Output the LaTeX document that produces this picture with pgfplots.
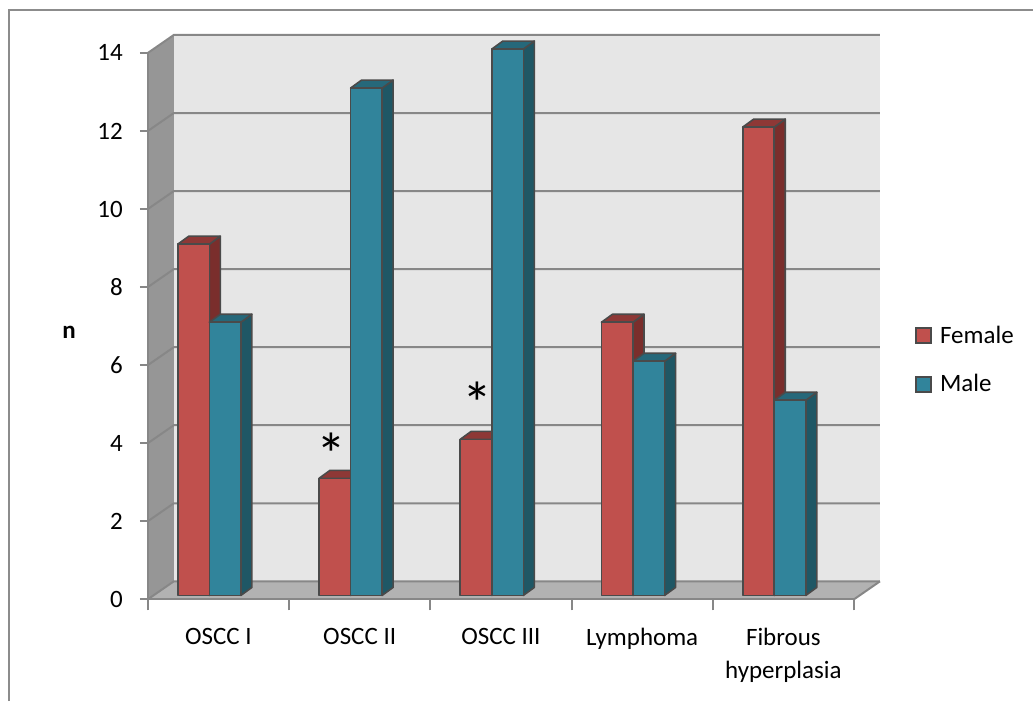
\documentclass[border=0pt]{standalone}
\usepackage{fontspec}
\setmainfont{Carlito}
\usepackage{pgfplots}
\pgfplotsset{compat=1.18}
\usepackage{pgfplotstable}

\definecolor{redF}{HTML}{C0504D}
\definecolor{redS}{HTML}{7A2E2C}
\definecolor{redT}{HTML}{8E3836}
\definecolor{tealF}{HTML}{31849B}
\definecolor{tealS}{HTML}{1F5765}
\definecolor{tealT}{HTML}{26687A}
\definecolor{barline}{HTML}{4A4A4A}
\definecolor{wallc}{HTML}{E6E6E6}
\definecolor{sidewall}{HTML}{969696}
\definecolor{floorc}{HTML}{B2B2B2}
\definecolor{gridc}{HTML}{878787}
\definecolor{framec}{HTML}{8C8C8C}

\pgfplotstableread{
cat female male
0 9 7
1 3 13
2 4 14
3 7 6
4 12 5
}\datatable

% #1 x offset, #2 front, #3 side, #4 top
\newcommand\drawbar[4]{%
  \begin{pgfscope}%
  \pgfmathsetlengthmacro\bh{\val*19.535pt}%
  \pgfsetlinewidth{0.8pt}%
  \pgfsetstrokecolor{barline}%
  \pgfsetroundjoin
  \pgftransformxshift{#1}%
  % side
  \pgfpathmoveto{\pgfpoint{15.8pt}{1.95pt-\bh}}%
  \pgfpathlineto{\pgfpoint{21.3pt}{5.95pt-\bh}}%
  \pgfpathlineto{\pgfpoint{21.3pt}{5.95pt}}%
  \pgfpathlineto{\pgfpoint{15.8pt}{1.95pt}}%
  \pgfpathclose
  \pgfsetfillcolor{#3}\pgfusepath{fill,stroke}%
  % top
  \pgfpathmoveto{\pgfpoint{0pt}{1.95pt}}%
  \pgfpathlineto{\pgfpoint{5.5pt}{5.95pt}}%
  \pgfpathlineto{\pgfpoint{21.3pt}{5.95pt}}%
  \pgfpathlineto{\pgfpoint{15.8pt}{1.95pt}}%
  \pgfpathclose
  \pgfsetfillcolor{#4}\pgfusepath{fill,stroke}%
  % front
  \pgfpathrectanglecorners{\pgfpoint{0pt}{1.95pt}}{\pgfpoint{15.8pt}{1.95pt-\bh}}%
  \pgfsetfillcolor{#2}\pgfusepath{fill,stroke}%
  \end{pgfscope}%
}
\pgfdeclareplotmark{barF}{\drawbar{-20.36pt}{redF}{redS}{redT}}
\pgfdeclareplotmark{barM}{\drawbar{-4.56pt}{tealF}{tealS}{tealT}}

\begin{document}
\begin{tikzpicture}[font=\fontsize{12.5}{15.5}\selectfont]
\begin{axis}[
  x=70.7pt, y=19.535pt,
  xmin=-0.5, xmax=4.5, ymin=0, ymax=14,
  clip=false,
  axis on top,
  axis x line*=bottom, axis y line*=left,
  axis line style={gridc, line width=1pt},
  tick style={gridc, line width=1pt},
  tick align=outside,
  major tick length=4pt,
  xtick style={/pgfplots/major tick length=5.5pt},
  ytick={0,2,...,14},
  xtick={-0.5,0.5,...,4.5},
  xticklabels={,,,,,},
  extra x ticks={0,1,2,3,4},
  extra x tick labels={OSCC I, OSCC II, OSCC III, Lymphoma, {Fibrous\\hyperplasia}},
  extra x tick style={/pgfplots/major tick length=0pt, tick style={draw=none},
     xticklabel style={align=center, yshift=-11pt, font=\fontsize{12.5}{16.5}\selectfont}},
  /pgf/number format/assume math mode=true,
  yticklabel style={font=\fontsize{12.5}{15.5}\selectfont, xshift=-5pt},
  ylabel={\textbf{n}},
  every axis y label/.style={at={(axis description cs:-0.1117,0.488)}, anchor=center},
  legend style={draw=none, fill=none, at={(axis description cs:1.086,0.438)}, anchor=west,
     inner sep=0pt, row sep=12pt, font=\fontsize{12.5}{15.5}\selectfont,
     nodes={inner sep=1pt}},
  legend cell align=left,
]
\coordinate (ref) at (axis cs:-0.5,0);
% side wall
\fill[sidewall] (axis cs:-0.5,0) -- ([shift={(13pt,9pt)}]axis cs:-0.5,0)
   -- ([shift={(13pt,9pt)}]axis cs:-0.5,14) -- (axis cs:-0.5,14) -- cycle;
% back wall
\fill[wallc] ([shift={(13pt,9pt)}]axis cs:-0.5,0) rectangle ([shift={(13pt,9pt)}]axis cs:4.5,14);
% floor
\fill[floorc] (axis cs:-0.5,0) -- (axis cs:4.5,0) -- ([shift={(13pt,9pt)}]axis cs:4.5,0)
   -- ([shift={(13pt,9pt)}]axis cs:-0.5,0) -- cycle;
\draw[gridc, line width=1pt] (axis cs:4.5,0) -- ([shift={(13pt,9pt)}]axis cs:4.5,0);
% gridlines
\pgfplotsinvokeforeach{0,2,...,14}{
  \draw[gridc, line width=1pt] (axis cs:-0.5,#1) -- ([shift={(13pt,9pt)}]axis cs:-0.5,#1)
     -- ([shift={(13pt,9pt)}]axis cs:4.5,#1);
}
% bars
\addplot[forget plot, only marks, scatter, mark=barF,
  visualization depends on={rawy \as \val}] table[x=cat, y=female] {\datatable};
\addplot[forget plot, only marks, scatter, mark=barM,
  visualization depends on={rawy \as \val}] table[x=cat, y=male] {\datatable};
% significance marks
\node[font=\fontsize{30}{30}\selectfont, anchor=base, yshift=-16.5pt] at (axis cs:0.801,4.02) {*};
\node[font=\fontsize{30}{30}\selectfont, anchor=base, yshift=-16.5pt] at (axis cs:1.834,5.32) {*};
% legend
\addlegendimage{legend image code/.code={\draw[fill=redF, draw=barline, line width=1pt] (0pt,-3.75pt) rectangle (7.5pt,3.75pt);}}
\addlegendentry{\hspace{3pt}Female}
\addlegendimage{legend image code/.code={\draw[fill=tealF, draw=barline, line width=1pt] (0pt,-3.75pt) rectangle (7.5pt,3.75pt);}}
\addlegendentry{\hspace{3pt}Male}
\end{axis}
\path (ref) ++(-74pt,300pt) coordinate (tl);
\path (tl) rectangle ++(517pt,-351pt);
\draw[framec, line width=1.2pt] ([shift={(4.5pt,-351pt)}]tl) -- ([shift={(4.5pt,-5pt)}]tl) -- ([shift={(517pt,-5pt)}]tl);
\end{tikzpicture}
\end{document}
